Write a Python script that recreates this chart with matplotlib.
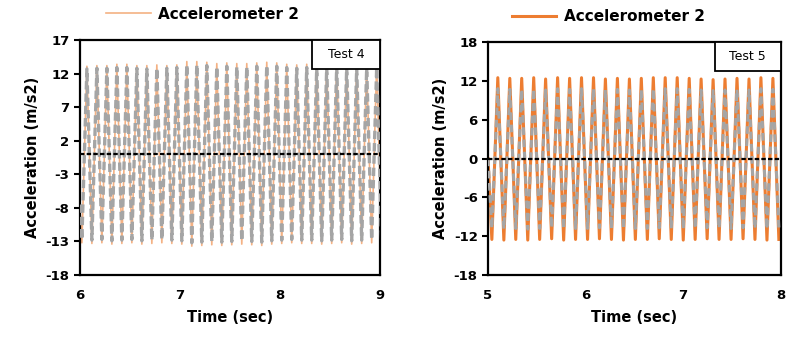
import numpy as np
import matplotlib.pyplot as plt
from matplotlib.patches import Rectangle

plt.rcParams['font.family'] = ['DejaVu Sans']
plt.rcParams['font.weight'] = 'bold'
plt.rcParams['axes.unicode_minus'] = False

# ---- Test 4 (6-9 s) : peak / trough values of each cycle ----
t4_start = [6.0]
a4_start_orange = [-8.0]
a4_start_gray = [-7.5]
t4_peaks = [6.07, 6.17, 6.27, 6.37, 6.47, 6.57, 6.67, 6.77, 6.87, 6.97,
            7.07, 7.17, 7.27, 7.37, 7.47, 7.57, 7.67, 7.77, 7.87, 7.97,
            8.07, 8.17, 8.27, 8.37, 8.47, 8.57, 8.67, 8.77, 8.87, 8.97]
t4_troughs = [6.02, 6.12, 6.22, 6.32, 6.42, 6.52, 6.62, 6.72, 6.82, 6.92,
              7.02, 7.12, 7.22, 7.32, 7.42, 7.52, 7.62, 7.72, 7.82, 7.92,
              8.02, 8.12, 8.22, 8.32, 8.42, 8.52, 8.62, 8.72, 8.82, 8.92, 9.02]
p4_orange = [13.1, 13.2, 13.2, 13.4, 13.4, 13.2, 13.2, 13.3, 13.2, 13.3,
             13.8, 13.8, 13.7, 13.5, 13.6, 13.5, 13.5, 13.6, 13.7, 13.6,
             13.4, 13.3, 13.4, 13.3, 13.4, 13.5, 13.4, 13.3, 13.3, 13.4]
v4_orange = [-13.2, -13.3, -13.2, -13.4, -13.3, -13.2, -13.4, -13.3, -13.2, -13.3,
             -13.4, -13.7, -13.6, -13.5, -13.6, -13.5, -13.4, -13.5, -13.6, -13.4,
             -13.3, -13.2, -13.3, -13.3, -13.4, -13.3, -13.2, -13.4, -13.3, -13.2, -13.3]
p4_gray = [12.7, 12.8, 12.8, 12.9, 12.9, 12.8, 12.7, 12.8, 12.8, 12.9,
           13.3, 13.3, 13.2, 13.0, 13.1, 13.0, 13.0, 13.1, 13.2, 13.1,
           12.9, 12.8, 12.9, 12.8, 12.9, 13.0, 12.9, 12.8, 12.8, 12.9]
v4_gray = [-12.7, -12.8, -12.7, -12.9, -12.8, -12.7, -12.9, -12.8, -12.7, -12.8,
           -12.9, -13.2, -13.1, -13.0, -13.1, -13.0, -12.9, -13.0, -13.1, -12.9,
           -12.8, -12.7, -12.8, -12.8, -12.9, -12.8, -12.7, -12.9, -12.8, -12.7, -12.8]

# ---- Test 5 (5-8 s) ----
t5_start = [5.0]
a5_start_orange = [0.0]
a5_start_gray = [0.0]
t5_peaks = [5.100, 5.223, 5.345, 5.468, 5.590, 5.713, 5.836, 5.958, 6.081, 6.203,
            6.326, 6.449, 6.571, 6.694, 6.816, 6.939, 7.062, 7.184, 7.307, 7.429,
            7.552, 7.675, 7.797, 7.920]
t5_troughs = [5.039, 5.162, 5.284, 5.407, 5.529, 5.652, 5.775, 5.897, 6.020, 6.142,
              6.265, 6.388, 6.510, 6.633, 6.755, 6.878, 7.001, 7.123, 7.246, 7.368,
              7.491, 7.614, 7.736, 7.859, 7.981]
p5_orange = [12.5, 12.4, 12.4, 12.5, 12.3, 12.5, 12.4, 12.5, 12.5, 12.3,
             12.4, 12.3, 12.4, 12.5, 12.5, 12.5, 12.4, 12.3, 12.2, 12.3,
             12.4, 12.3, 12.5, 12.4]
v5_orange = [-12.5, -12.6, -12.5, -12.6, -12.5, -12.4, -12.6, -12.5, -12.5, -12.4,
             -12.5, -12.6, -12.5, -12.5, -12.4, -12.5, -12.6, -12.5, -12.4, -12.5,
             -12.5, -12.4, -12.5, -12.6, -12.5]
p5_gray = [10.8, 10.7, 10.7, 10.8, 10.6, 10.8, 10.7, 10.8, 10.8, 10.6,
           10.7, 10.6, 10.7, 10.8, 10.8, 10.8, 10.7, 10.6, 10.5, 10.6,
           10.7, 10.6, 10.8, 10.7]
v5_gray = [-10.8, -10.9, -10.8, -10.9, -10.8, -10.7, -10.9, -10.8, -10.8, -10.7,
           -10.8, -10.9, -10.8, -10.8, -10.7, -10.8, -10.9, -10.8, -10.7, -10.8,
           -10.8, -10.7, -10.8, -10.9, -10.8]

x4_ticks = [6, 7, 8, 9]
y4_ticks = [-18, -13, -8, -3, 2, 7, 12, 17]
x5_ticks = [5, 6, 7, 8]
y5_ticks = [-18, -12, -6, 0, 6, 12, 18]

legend_label = "Accelerometer 2"


def series(t0, a0, tp, ap, tt, at):
	t = np.array(t0 + tp + tt)
	a = np.array(a0 + ap + at)
	order = np.argsort(t)
	return t[order], a[order]


def panel(ax, t, orange, gray, xticks, yticks, test, oc, olw, glw, dash):
	ax.plot(t, orange, color=oc, lw=olw, label=legend_label, zorder=2)
	ax.plot(t, gray, color='#A5A5A5', lw=glw, ls=dash, zorder=3)
	ax.axhline(0, color='black', lw=1.6, ls=(0, (2, 1)), zorder=5)
	ax.set_xlim(xticks[0], xticks[-1])
	ax.set_ylim(yticks[0], yticks[-1])
	ax.set_xticks(xticks)
	ax.set_yticks(yticks)
	ax.tick_params(axis='x', length=0, pad=10, labelsize=9.5)
	ax.tick_params(axis='y', length=4, width=1.5, direction='out', labelsize=9.5)
	for s in ax.spines.values():
		s.set_linewidth(1.6)
		s.set_color('black')
	ax.set_xlabel("Time (sec)", fontsize=10.5, fontweight='bold', labelpad=6)
	ax.set_ylabel("Acceleration (m/s2)", fontsize=10.5, fontweight='bold', labelpad=4)
	ax.add_patch(Rectangle((0.775, 0.878), 0.225, 0.122, transform=ax.transAxes,
	                       facecolor='white', edgecolor='black', lw=1.3, zorder=8,
	                       clip_on=False))
	ax.text(0.8875, 0.939, test, transform=ax.transAxes, ha='center', va='center',
	        fontsize=9, fontweight='normal', zorder=9)
	leg = ax.legend(loc='center', bbox_to_anchor=(0.41, 1.11), frameon=False,
	                fontsize=11, handlelength=2.9, handletextpad=0.5,
	                borderaxespad=0)
	for txt in leg.get_texts():
		txt.set_fontweight('bold')


fig = plt.figure(figsize=(7.91, 3.41), dpi=100)
ax1 = fig.add_axes([0.101, 0.1935, 0.379, 0.689])
ax2 = fig.add_axes([0.617, 0.1935, 0.370, 0.683])

t4, o4 = series(t4_start, a4_start_orange, t4_peaks, p4_orange, t4_troughs, v4_orange)
_, g4 = series(t4_start, a4_start_gray, t4_peaks, p4_gray, t4_troughs, v4_gray)
t5, o5 = series(t5_start, a5_start_orange, t5_peaks, p5_orange, t5_troughs, v5_orange)
_, g5 = series(t5_start, a5_start_gray, t5_peaks, p5_gray, t5_troughs, v5_gray)

panel(ax1, t4, o4, g4, x4_ticks, y4_ticks, "Test 4", '#F4B183', 1.2, 2.4, (0, (2.5, 1.2)))
panel(ax2, t5, o5, g5, x5_ticks, y5_ticks, "Test 5", '#ED7D31', 2.2, 2.2, (0, (2.5, 1.5)))

fig.savefig("out.png", dpi=100)
